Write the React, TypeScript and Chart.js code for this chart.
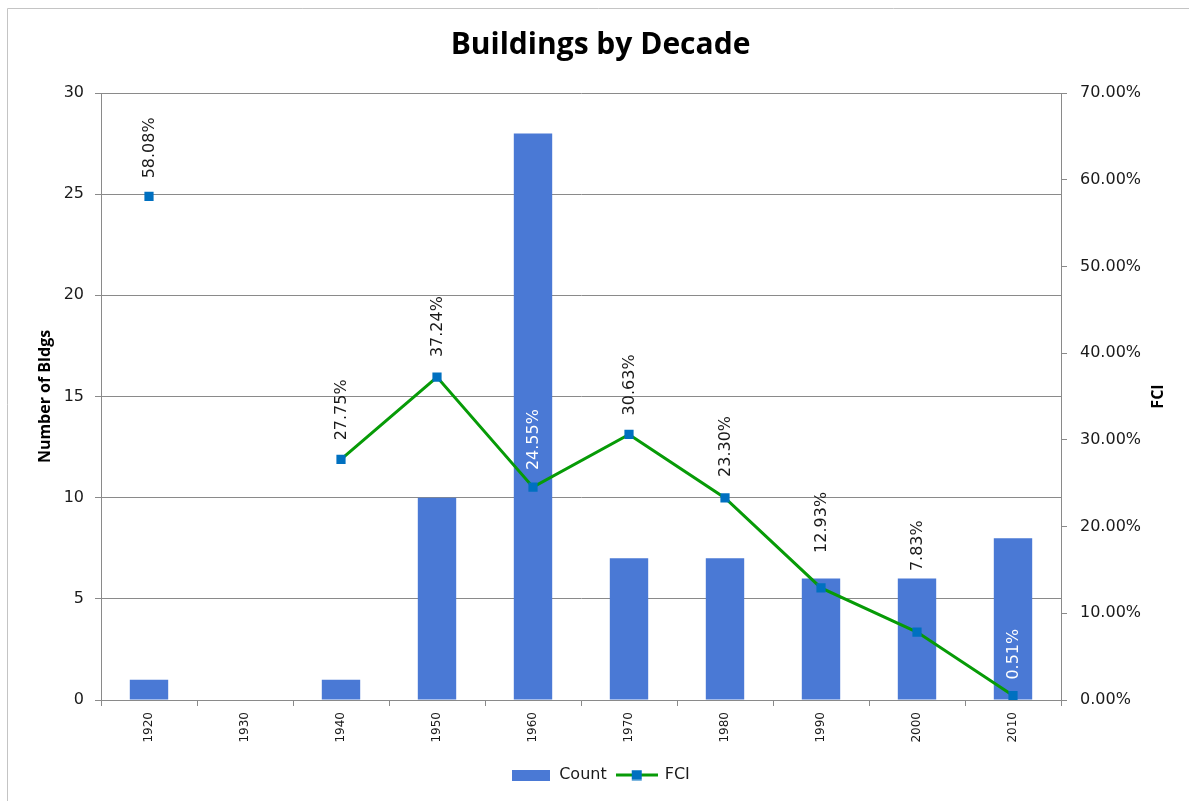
import React, { useEffect, useRef } from 'react';
import { Chart, registerables } from 'chart.js';

Chart.register(...registerables);

// Decades on the category axis
const decades = ['1920', '1930', '1940', '1950', '1960', '1970', '1980', '1990', '2000', '2010'];
// Number of buildings per decade (left axis)
const buildingCounts = [1, 0, 1, 10, 28, 7, 7, 6, 6, 8];
// Facility condition index per decade, in percent (right axis)
const fciPercent: (number | null)[] = [58.08, null, 27.75, 37.24, 24.55, 30.63, 23.3, 12.93, 7.83, 0.51];
// Axis ranges
const countAxis = { min: 0, max: 30, step: 5 };
const fciAxis = { min: 0, max: 70, step: 10 };

const BAR_COLOR = '#4a79d5';
const LINE_COLOR = '#079b07';
const MARKER_COLOR = '#0070c0';
const GRID_COLOR = '#8a8a8a';
const TEXT_COLOR = '#1a1a1a';
const TICK_FONT = '"DejaVu Sans", sans-serif';
const TITLE_FONT = '"Open Sans", sans-serif';
// Pixel gap between each FCI point and its value label (some lifted clear of the bars)
const LABEL_GAP = [18, 18, 19, 20, 17, 19, 21, 35, 61, 16];

function barSwatch(): HTMLCanvasElement {
  const c = document.createElement('canvas');
  c.width = 38;
  c.height = 11;
  const g = c.getContext('2d')!;
  g.fillStyle = BAR_COLOR;
  g.fillRect(0, 0, 38, 11);
  return c;
}

function lineSwatch(): HTMLCanvasElement {
  const c = document.createElement('canvas');
  c.width = 42;
  c.height = 11;
  const g = c.getContext('2d')!;
  g.strokeStyle = LINE_COLOR;
  g.lineWidth = 3;
  g.beginPath();
  g.moveTo(0, 5.5);
  g.lineTo(42, 5.5);
  g.stroke();
  g.fillStyle = MARKER_COLOR;
  g.fillRect(16, 0.5, 10, 10);
  return c;
}

// Thin frame along the top and left edges
const framePlugin = {
  id: 'frame',
  beforeDraw(chart: any) {
    const { ctx, width, height } = chart;
    ctx.save();
    ctx.strokeStyle = '#c4c4c4';
    ctx.lineWidth = 1;
    ctx.beginPath();
    ctx.moveTo(7.5, height);
    ctx.lineTo(7.5, 8.5);
    ctx.lineTo(width, 8.5);
    ctx.stroke();
    ctx.restore();
  },
};

// Vertical value labels above each FCI point
const pointLabelsPlugin = {
  id: 'pointLabels',
  afterDatasetsDraw(chart: any) {
    const ctx = chart.ctx;
    const barMeta = chart.getDatasetMeta(0);
    const lineMeta = chart.getDatasetMeta(1);
    ctx.save();
    ctx.font = `16px ${TICK_FONT}`;
    ctx.textAlign = 'left';
    ctx.textBaseline = 'middle';
    fciPercent.forEach((v, i) => {
      if (v == null) return;
      const pt = lineMeta.data[i];
      const text = v.toFixed(2) + '%';
      const w = ctx.measureText(text).width;
      const start = pt.y - LABEL_GAP[i];
      const end = start - w;
      const bar = barMeta.data[i];
      const inside = buildingCounts[i] > 0 && end > bar.y;
      ctx.save();
      ctx.translate(pt.x + 1, start);
      ctx.rotate(-Math.PI / 2);
      ctx.fillStyle = inside ? '#ffffff' : TEXT_COLOR;
      ctx.fillText(text, 0, 0);
      ctx.restore();
    });
    ctx.restore();
  },
};

// Secondary axis title, reading bottom to top
const rightTitlePlugin = {
  id: 'rightTitle',
  afterDraw(chart: any) {
    const { ctx, chartArea } = chart;
    const scale = chart.scales.y1;
    ctx.save();
    ctx.font = `bold 16px ${TITLE_FONT}`;
    ctx.fillStyle = '#000';
    ctx.textAlign = 'center';
    ctx.textBaseline = 'middle';
    ctx.translate(scale.right - 31, (chartArea.top + chartArea.bottom) / 2);
    ctx.rotate(-Math.PI / 2);
    ctx.fillText('FCI', 0, 0);
    ctx.restore();
  },
};

export default function App() {
  const canvasRef = useRef<HTMLCanvasElement | null>(null);

  useEffect(() => {
    const canvas = canvasRef.current;
    if (!canvas) return;
    const swatchBar = barSwatch();
    const swatchLine = lineSwatch();

    const chart = new Chart(canvas, {
      type: 'bar',
      data: {
        labels: decades,
        datasets: [
          {
            type: 'bar',
            label: 'Count',
            data: buildingCounts,
            backgroundColor: BAR_COLOR,
            barPercentage: 1,
            categoryPercentage: 0.4,
            yAxisID: 'y',
            order: 2,
          },
          {
            type: 'line',
            label: 'FCI',
            data: fciPercent,
            borderColor: LINE_COLOR,
            borderWidth: 3,
            backgroundColor: MARKER_COLOR,
            pointStyle: 'rect',
            pointRadius: 6.5,
            pointBorderWidth: 0,
            pointBackgroundColor: MARKER_COLOR,
            spanGaps: false,
            tension: 0,
            yAxisID: 'y1',
            order: 1,
          } as any,
        ],
      },
      options: {
        responsive: false,
        animation: false,
        events: [],
        layout: { padding: { left: 12, right: 0, top: 0, bottom: 8 } },
        scales: {
          x: {
            type: 'category',
            offset: true,
            grid: {
              offset: true,
              drawOnChartArea: false,
              drawTicks: true,
              tickLength: 6,
              color: GRID_COLOR,
            },
            border: { color: GRID_COLOR, width: 1 },
            ticks: {
              minRotation: 90,
              maxRotation: 90,
              padding: 6,
              color: TEXT_COLOR,
              font: { family: TICK_FONT, size: 12 },
            },
            afterFit(scale: any) {
              scale.height = 57;
            },
          },
          y: {
            position: 'left',
            min: countAxis.min,
            max: countAxis.max,
            ticks: {
              stepSize: countAxis.step,
              padding: 11,
              color: TEXT_COLOR,
              font: { family: TICK_FONT, size: 16 },
            },
            grid: { color: GRID_COLOR, tickLength: 6, lineWidth: 1 },
            border: { color: GRID_COLOR, width: 1 },
            title: {
              display: true,
              text: 'Number of Bldgs',
              color: '#000',
              font: { family: TITLE_FONT, size: 16, weight: 'bold' },
              padding: { top: 24, bottom: 0 },
            },
            afterFit(scale: any) {
              scale.width = 89;
            },
          },
          y1: {
            position: 'right',
            min: fciAxis.min,
            max: fciAxis.max,
            ticks: {
              stepSize: fciAxis.step,
              padding: 13,
              color: TEXT_COLOR,
              font: { family: TICK_FONT, size: 16 },
              callback: (v: any) => Number(v).toFixed(2) + '%',
            },
            grid: { drawOnChartArea: false, color: GRID_COLOR, tickLength: 6 },
            border: { color: GRID_COLOR, width: 1 },
            afterFit(scale: any) {
              scale.width = 128;
            },
          },
        },
        plugins: {
          title: {
            display: true,
            text: 'Buildings by Decade',
            color: '#000',
            font: { family: TITLE_FONT, size: 30, weight: 'bold', lineHeight: 1.2 },
            padding: { top: 27, bottom: 30 },
          },
          legend: {
            display: true,
            position: 'bottom',
            labels: {
              usePointStyle: true,
              pointStyleWidth: 40,
              padding: 10,
              color: TEXT_COLOR,
              font: { family: TICK_FONT, size: 16 },
              generateLabels(ch: any) {
                const items = (Chart.defaults.plugins.legend.labels as any).generateLabels(ch);
                items.forEach((it: any) => {
                  it.pointStyle = it.datasetIndex === 0 ? swatchBar : swatchLine;
                });
                return items.sort((a: any, b: any) => a.datasetIndex - b.datasetIndex);
              },
            },
          },
          tooltip: { enabled: false },
        },
      },
      plugins: [framePlugin, pointLabelsPlugin, rightTitlePlugin],
    });

    return () => chart.destroy();
  }, []);

  return (
    <div style={{ position: 'fixed', left: 0, top: 0, width: 1189, height: 801, background: '#fff' }}>
      <canvas ref={canvasRef} width={1189} height={801} style={{ display: 'block' }} />
    </div>
  );
}
